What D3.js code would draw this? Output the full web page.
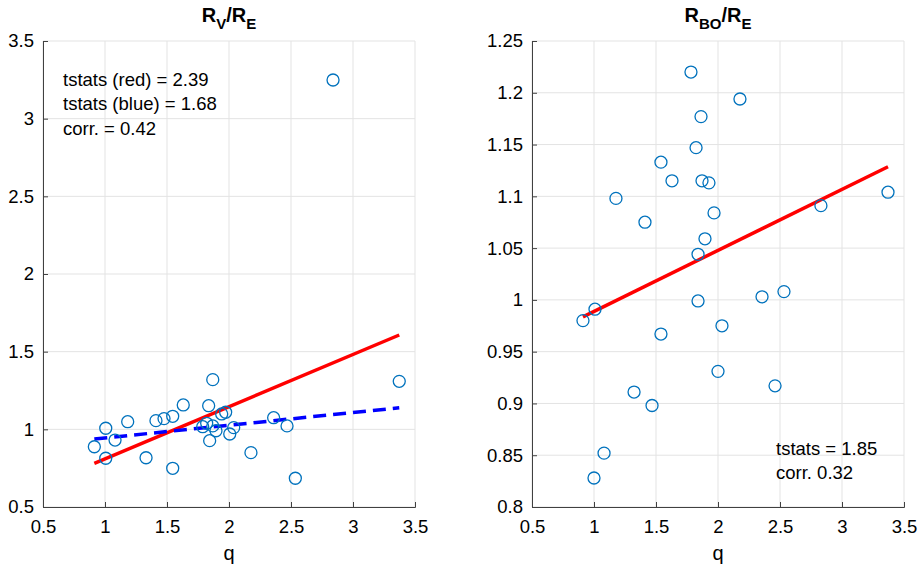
<!DOCTYPE html>
<meta charset="utf-8">
<script src="https://d3js.org/d3.v7.min.js"></script>
<style>
  body { margin: 0; background: #fff; }
  text { font-family: "Liberation Sans", Arial, sans-serif; fill: #000; }
</style>
<svg id="chart"></svg>

<script>
// data
var qV = [0.914, 1.006, 1.006, 1.081, 1.183, 1.331, 1.411, 1.476, 1.546, 1.546,
  1.631, 1.788, 1.82, 1.836, 1.844, 1.869, 1.869, 1.895, 1.941, 1.973,
  2.006, 2.038, 2.177, 2.36, 2.468, 2.535, 2.839, 3.373];
var rV = [0.888, 1.007, 0.814, 0.931, 1.049, 0.817, 1.056, 1.069, 1.084, 0.749,
  1.157, 1.017, 1.039, 1.152, 0.927, 1.320, 1.022, 0.991, 1.099, 1.110,
  0.970, 1.011, 0.850, 1.075, 1.022, 0.685, 3.249, 1.309];

var qBO = [0.911, 1.0, 1.008, 1.081, 1.177, 1.323, 1.411, 1.468, 1.540, 1.540,
  1.629, 1.782, 1.823, 1.839, 1.839, 1.863, 1.871, 1.895, 1.927, 1.968,
  2.0, 2.032, 2.177, 2.355, 2.46, 2.532, 2.83, 3.371];
var rBO = [0.980, 0.828, 0.991, 0.852, 1.098, 0.911, 1.075, 0.898, 1.133, 0.967,
  1.115, 1.220, 1.147, 1.044, 0.999, 1.177, 1.115, 1.059, 1.113, 1.084,
  0.931, 0.975, 1.194, 1.003, 0.917, 1.008, 1.091, 1.104];

// fitted lines: [slope, intercept]
var fitVred = [0.336, 0.474];
var fitVblue = [0.0817, 0.863];
var fitBOred = [0.0589, 0.930];

var xTicks = [0.5, 1, 1.5, 2, 2.5, 3, 3.5];
var yTicksV = [0.5, 1, 1.5, 2, 2.5, 3, 3.5];
var yTicksBO = [0.8, 0.85, 0.9, 0.95, 1, 1.05, 1.1, 1.15, 1.2, 1.25];

var notesV = ["tstats (red) = 2.39", "tstats (blue) = 1.68", "corr. = 0.42"];
var notesBO = ["tstats = 1.85", "corr. 0.32"];

var width = 924, height = 569;
var svg = d3.select("#chart").attr("width", width).attr("height", height);

function panel(opt) {
  var x = d3.scaleLinear().domain([0.5, 3.5]).range([opt.left, opt.right]);
  var y = d3.scaleLinear().domain(opt.ydom).range([507, 41]);
  var g = svg.append("g");

  // grid
  g.selectAll(".gx").data(xTicks).enter().append("line")
    .attr("x1", d => x(d)).attr("x2", d => x(d))
    .attr("y1", y.range()[0]).attr("y2", y.range()[1])
    .attr("stroke", "#e3e3e3").attr("stroke-width", 1);
  g.selectAll(".gy").data(opt.yticks).enter().append("line")
    .attr("x1", opt.left).attr("x2", opt.right)
    .attr("y1", d => y(d)).attr("y2", d => y(d))
    .attr("stroke", "#e3e3e3").attr("stroke-width", 1);

  // axes (ticks pointing inward)
  var xa = g.append("g").attr("transform", "translate(0,507)")
    .call(d3.axisBottom(x).tickValues(xTicks).tickSize(-5).tickPadding(13).tickFormat(d3.format("")));
  var ya = g.append("g").attr("transform", "translate(" + opt.left + ",0)")
    .call(d3.axisLeft(y).tickValues(opt.yticks).tickSize(-5).tickPadding(9).tickFormat(d3.format("")));
  [xa, ya].forEach(function (a) {
    a.select(".domain").attr("stroke", "#404040");
    a.selectAll(".tick line").attr("stroke", "#404040");
    a.selectAll("text").attr("font-size", 18.5).attr("fill", "#1a1a1a")
      .attr("font-family", "Liberation Sans, Arial, sans-serif");
  });

  // fit lines
  opt.fits.forEach(function (f) {
    var q0 = d3.min(opt.q), q1 = d3.max(opt.q);
    g.append("line")
      .attr("x1", x(q0)).attr("y1", y(f.c[0] * q0 + f.c[1]))
      .attr("x2", x(q1)).attr("y2", y(f.c[0] * q1 + f.c[1]))
      .attr("stroke", f.color).attr("stroke-width", 3.5)
      .attr("stroke-dasharray", f.dash || null);
  });

  // points
  g.selectAll("circle").data(opt.q).enter().append("circle")
    .attr("cx", d => x(d)).attr("cy", (d, i) => y(opt.r[i]))
    .attr("r", 6).attr("fill", "none")
    .attr("stroke", "#0072bd").attr("stroke-width", 1.3);

  // title with subscripts
  var t = g.append("text").attr("x", (opt.left + opt.right) / 2).attr("y", 22)
    .attr("text-anchor", "middle").attr("font-weight", "bold").attr("font-size", 20);
  t.append("tspan").text("R");
  t.append("tspan").attr("dy", 7).attr("font-size", 15).text(opt.sub1);
  t.append("tspan").attr("dy", -7).text("/R");
  t.append("tspan").attr("dy", 7).attr("font-size", 15).text("E");

  // x label
  g.append("text").attr("x", (opt.left + opt.right) / 2).attr("y", 560)
    .attr("text-anchor", "middle").attr("font-size", 20).text("q");

  // notes
  g.selectAll(".note").data(opt.notes).enter().append("text")
    .attr("x", opt.noteX).attr("y", (d, i) => opt.noteY + i * opt.noteStep)
    .attr("font-size", 18.5).text(d => d);
}

panel({
  left: 43, right: 415, ydom: [0.5, 3.5], yticks: yTicksV,
  q: qV, r: rV, sub1: "V",
  fits: [{ c: fitVred, color: "#ff0000" }, { c: fitVblue, color: "#0000ff", dash: "13,7" }],
  notes: notesV, noteX: 63, noteY: 86, noteStep: 24.3
});

panel({
  left: 532, right: 904, ydom: [0.8, 1.25], yticks: yTicksBO,
  q: qBO, r: rBO, sub1: "BO",
  fits: [{ c: fitBOred, color: "#ff0000" }],
  notes: notesBO, noteX: 776, noteY: 455, noteStep: 23.5
});
</script>
